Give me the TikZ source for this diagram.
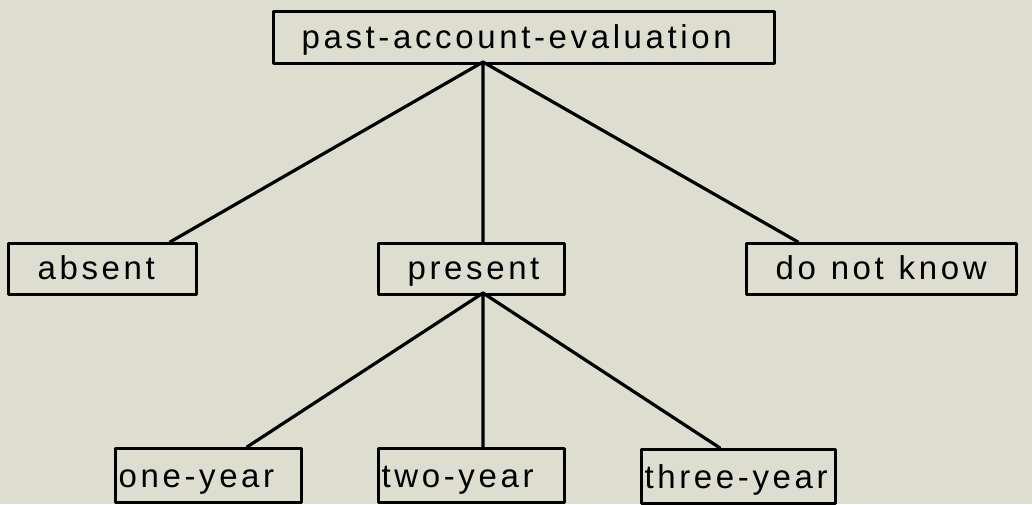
\documentclass[tikz,border=0pt]{standalone}
\usepackage{fontspec}
\setmainfont[LetterSpace=11]{Liberation Sans}
\definecolor{paper}{RGB}{221,222,208}
\begin{document}
\begin{tikzpicture}[x=1pt,y=-1pt,line join=round,line cap=round,line width=3.2pt]
 \tikzset{cat/.style={draw,anchor=north west,font=\fontsize{33}{35}\selectfont,
   align=left,inner ysep=0pt,text height=24pt,text depth=3pt,minimum height=51pt,inner xsep=29pt},
  leaf/.style={cat,inner xsep=3pt,minimum height=54pt,text depth=0pt}}
 \def\gap{\hspace{0.45em}}
 \fill[paper] (0,0) rectangle (1032,504);
 \useasboundingbox (0,0) rectangle (1032,504);
 % attribute and its values
 \node[cat,inner xsep=28pt,minimum height=52pt,text width=445pt] (pae) at (272,10) {past-account-evaluation};
 \node[cat,text width=130pt] (absent) at (7,242) {absent};
 \node[cat,text width=128pt] (present) at (377,242) {present};
 \node[cat,text width=212pt] (dnk) at (745,242) {do\gap not\gap know};
 \node[leaf,text width=180pt] (one) at (114,447) {\mbox{one-year}};
 \node[leaf,text width=180pt] (two) at (377,447) {\mbox{two-year}};
 \node[leaf,text width=188pt] (three) at (640,448) {\mbox{three-year}};
 % where the lines meet the boxes
 \coordinate (paeFoot) at (483,62);
 \coordinate (absentIn) at (170,242);
 \coordinate (presentIn) at (483,242);
 \coordinate (dnkIn) at (798,242);
 \coordinate (presentFoot) at (483,293);
 \coordinate (oneIn) at (247,447);
 \coordinate (twoIn) at (483,447);
 \coordinate (threeIn) at (720,448);
 \draw (paeFoot)--(absentIn) (paeFoot)--(presentIn) (paeFoot)--(dnkIn);
 \draw (presentFoot)--(oneIn) (presentFoot)--(twoIn) (presentFoot)--(threeIn);
\end{tikzpicture}
\end{document}
